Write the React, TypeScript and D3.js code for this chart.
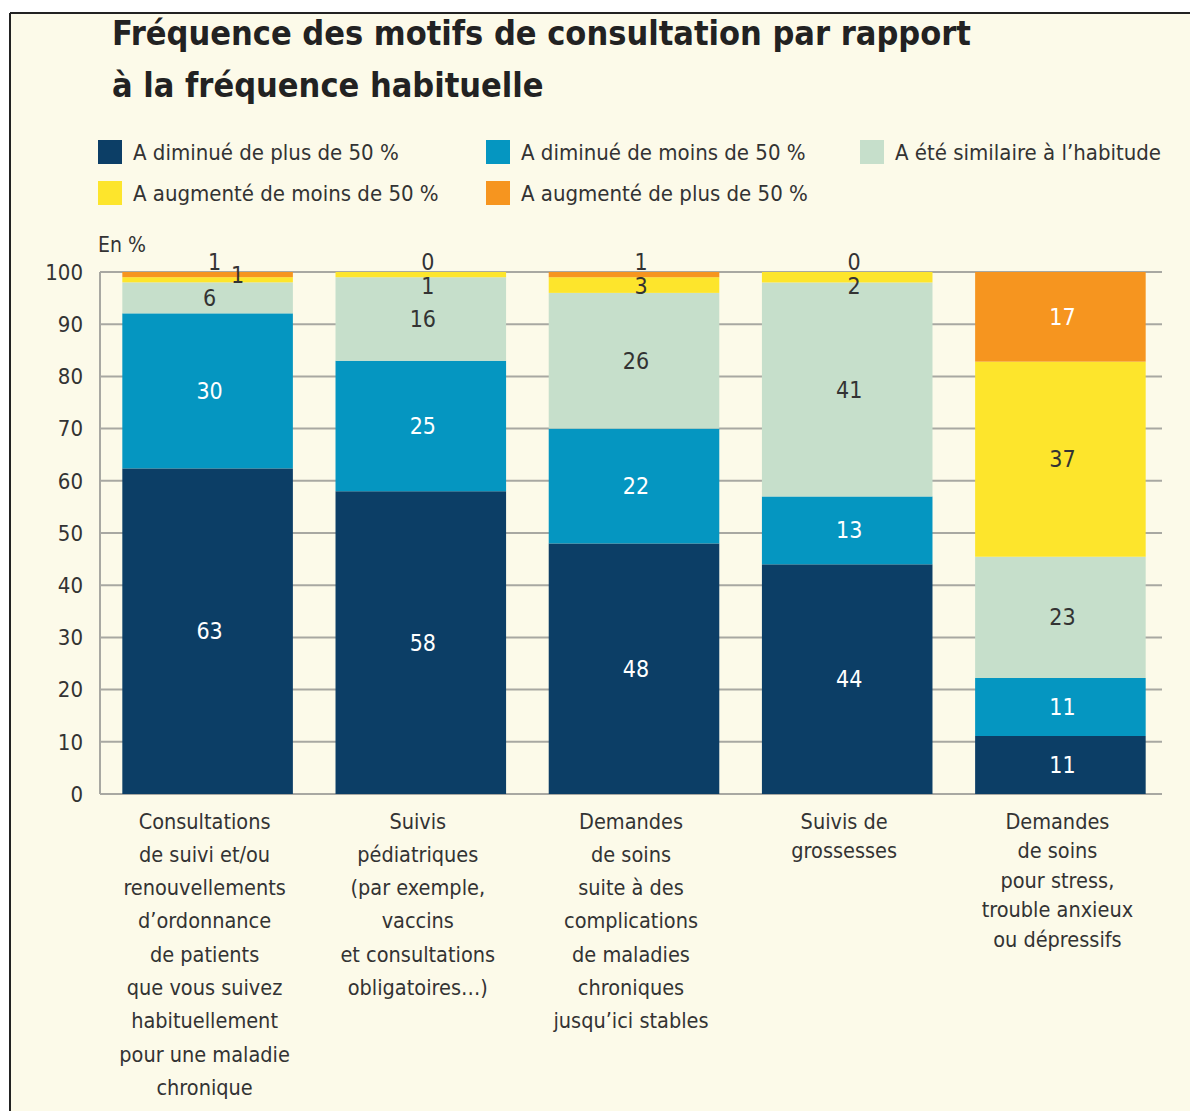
import React from 'react'
import * as d3 from 'd3'

const categories = ['c1', 'c2', 'c3', 'c4', 'c5']
const categoryLines = [
  ['Consultations', 'de suivi et/ou', 'renouvellements', 'd’ordonnance', 'de patients', 'que vous suivez', 'habituellement', 'pour une maladie', 'chronique'],
  ['Suivis', 'pédiatriques', '(par exemple,', 'vaccins', 'et consultations', 'obligatoires…)'],
  ['Demandes', 'de soins', 'suite à des', 'complications', 'de maladies', 'chroniques', 'jusqu’ici stables'],
  ['Suivis de', 'grossesses'],
  ['Demandes', 'de soins', 'pour stress,', 'trouble anxieux', 'ou dépressifs'],
]
const seriesNames = [
  'A diminué de plus de 50 %',
  'A diminué de moins de 50 %',
  'A été similaire à l’habitude',
  'A augmenté de moins de 50 %',
  'A augmenté de plus de 50 %',
]
const dimPlus50 = [63, 58, 48, 44, 11]
const dimMoins50 = [30, 25, 22, 13, 11]
const similaire = [6, 16, 26, 41, 23]
const augMoins50 = [1, 1, 3, 2, 37]
const augPlus50 = [1, 0, 1, 0, 17]
const yTicks = [0, 10, 20, 30, 40, 50, 60, 70, 80, 90, 100]

const colors = ['#0c3e66', '#0596c1', '#c6dfcb', '#fde52c', '#f6951f']
const labelColors = ['#ffffff', '#ffffff', '#333333', '#333333', '#ffffff']

const W = 1190
const H = 1111
const FONT = '"Liberation Sans Narrow", "DejaVu Sans Condensed", "Roboto", sans-serif'
const TEXT = '#333'

export default function App() {
  const keys = ['s0', 's1', 's2', 's3', 's4']
  const seriesValues = [dimPlus50, dimMoins50, similaire, augMoins50, augPlus50]
  const rows = categories.map((c, i) => {
    const r: any = { cat: c }
    keys.forEach((k, j) => (r[k] = seriesValues[j][i]))
    return r
  })
  const stacked = d3.stack().keys(keys).offset(d3.stackOffsetExpand)(rows)

  const x = d3.scaleBand().domain(categories).range([101, 1167]).paddingInner(0.2).paddingOuter(0.1)
  const y = d3.scaleLinear().domain([0, 100]).range([794, 272])
  const gridX0 = 100
  const gridX1 = 1162

  const legendPos = [
    [98, 152], [486, 152], [860, 152],
    [98, 193], [486, 193],
  ]

  return (
    <div style={{ position: 'absolute', left: 0, top: 0 }}>
      <svg width={W} height={H} style={{ display: 'block' }} fontFamily={FONT}>
        <rect x={0} y={0} width={W} height={H} fill="#fff" />
        <rect x={10} y={13} width={W - 10} height={H - 13} fill="#fcfae9" />
        <line x1={10} x2={W} y1={13} y2={13} stroke="#222" strokeWidth={2} />
        <line x1={10} x2={10} y1={13} y2={H} stroke="#222" strokeWidth={2} />

        <text x={112} y={45} fontSize={34} fontWeight="bold" fill="#222">
          Fréquence des motifs de consultation par rapport
        </text>
        <text x={112} y={97} fontSize={34} fontWeight="bold" fill="#222">
          à la fréquence habituelle
        </text>

        {seriesNames.map((n, i) => (
          <g key={n} transform={`translate(${legendPos[i][0]},${legendPos[i][1]})`}>
            <rect x={0} y={-12} width={24} height={24} fill={colors[i]} />
            <text x={35} y={0} dy="0.35em" fontSize={22} fill={TEXT}>{n}</text>
          </g>
        ))}

        <text x={98} y={245} dy="0.35em" fontSize={21} fill={TEXT}>En %</text>

        {yTicks.map(t => (
          <g key={t}>
            <line x1={gridX0} x2={gridX1} y1={y(t)} y2={y(t)} stroke="#a8a8a2" strokeWidth={2} />
            <text x={83} y={y(t)} dy="0.35em" textAnchor="end" fontSize={22} fill={TEXT}>{t}</text>
          </g>
        ))}
        <line x1={gridX0} x2={gridX0} y1={y(100)} y2={y(0)} stroke="#a8a8a2" strokeWidth={2} />

        {stacked.map((s, si) => (
          <g key={s.key} fill={colors[si]}>
            {s.map((d, ci) => (
              <rect
                key={ci}
                x={x(categories[ci])}
                width={x.bandwidth()}
                y={y(d[1] * 100)}
                height={Math.max(0, y(d[0] * 100) - y(d[1] * 100))}
              />
            ))}
          </g>
        ))}

        {stacked.map((s, si) =>
          s.map((d, ci) => {
            const v = seriesValues[si][ci]
            const cx = (x(categories[ci]) as number) + x.bandwidth() / 2
            const top = y(d[1] * 100)
            const bot = y(d[0] * 100)
            let lx = cx + 2
            let ly = (top + bot) / 2
            let fill = labelColors[si]
            if (v <= 3) {
              lx = cx + 7
              fill = TEXT
              if (si === 4) {
                ly = y(100) - 10
              } else if (si === 3) {
                if (augPlus50[ci] > 0 && v <= 1) {
                  lx = cx + 30
                  ly = y(100) + 3
                } else {
                  ly = Math.max(ly, y(100) + 14)
                }
              }
            }
            return (
              <text key={`${si}-${ci}`} x={lx} y={ly} dy="0.35em" textAnchor="middle" fontSize={23} fill={fill}>
                {v}
              </text>
            )
          })
        )}

        {categoryLines.map((lines, ci) => {
          const cx = (x(categories[ci]) as number) + x.bandwidth() / 2
          const step = ci >= 3 ? 29.5 : 33.3
          return (
            <text key={ci} textAnchor="middle" fontSize={21.5} fill={TEXT}>
              {lines.map((l, li) => (
                <tspan key={li} x={cx - 3} y={821 + li * step} dy="0.35em">{l}</tspan>
              ))}
            </text>
          )
        })}
      </svg>
    </div>
  )
}
